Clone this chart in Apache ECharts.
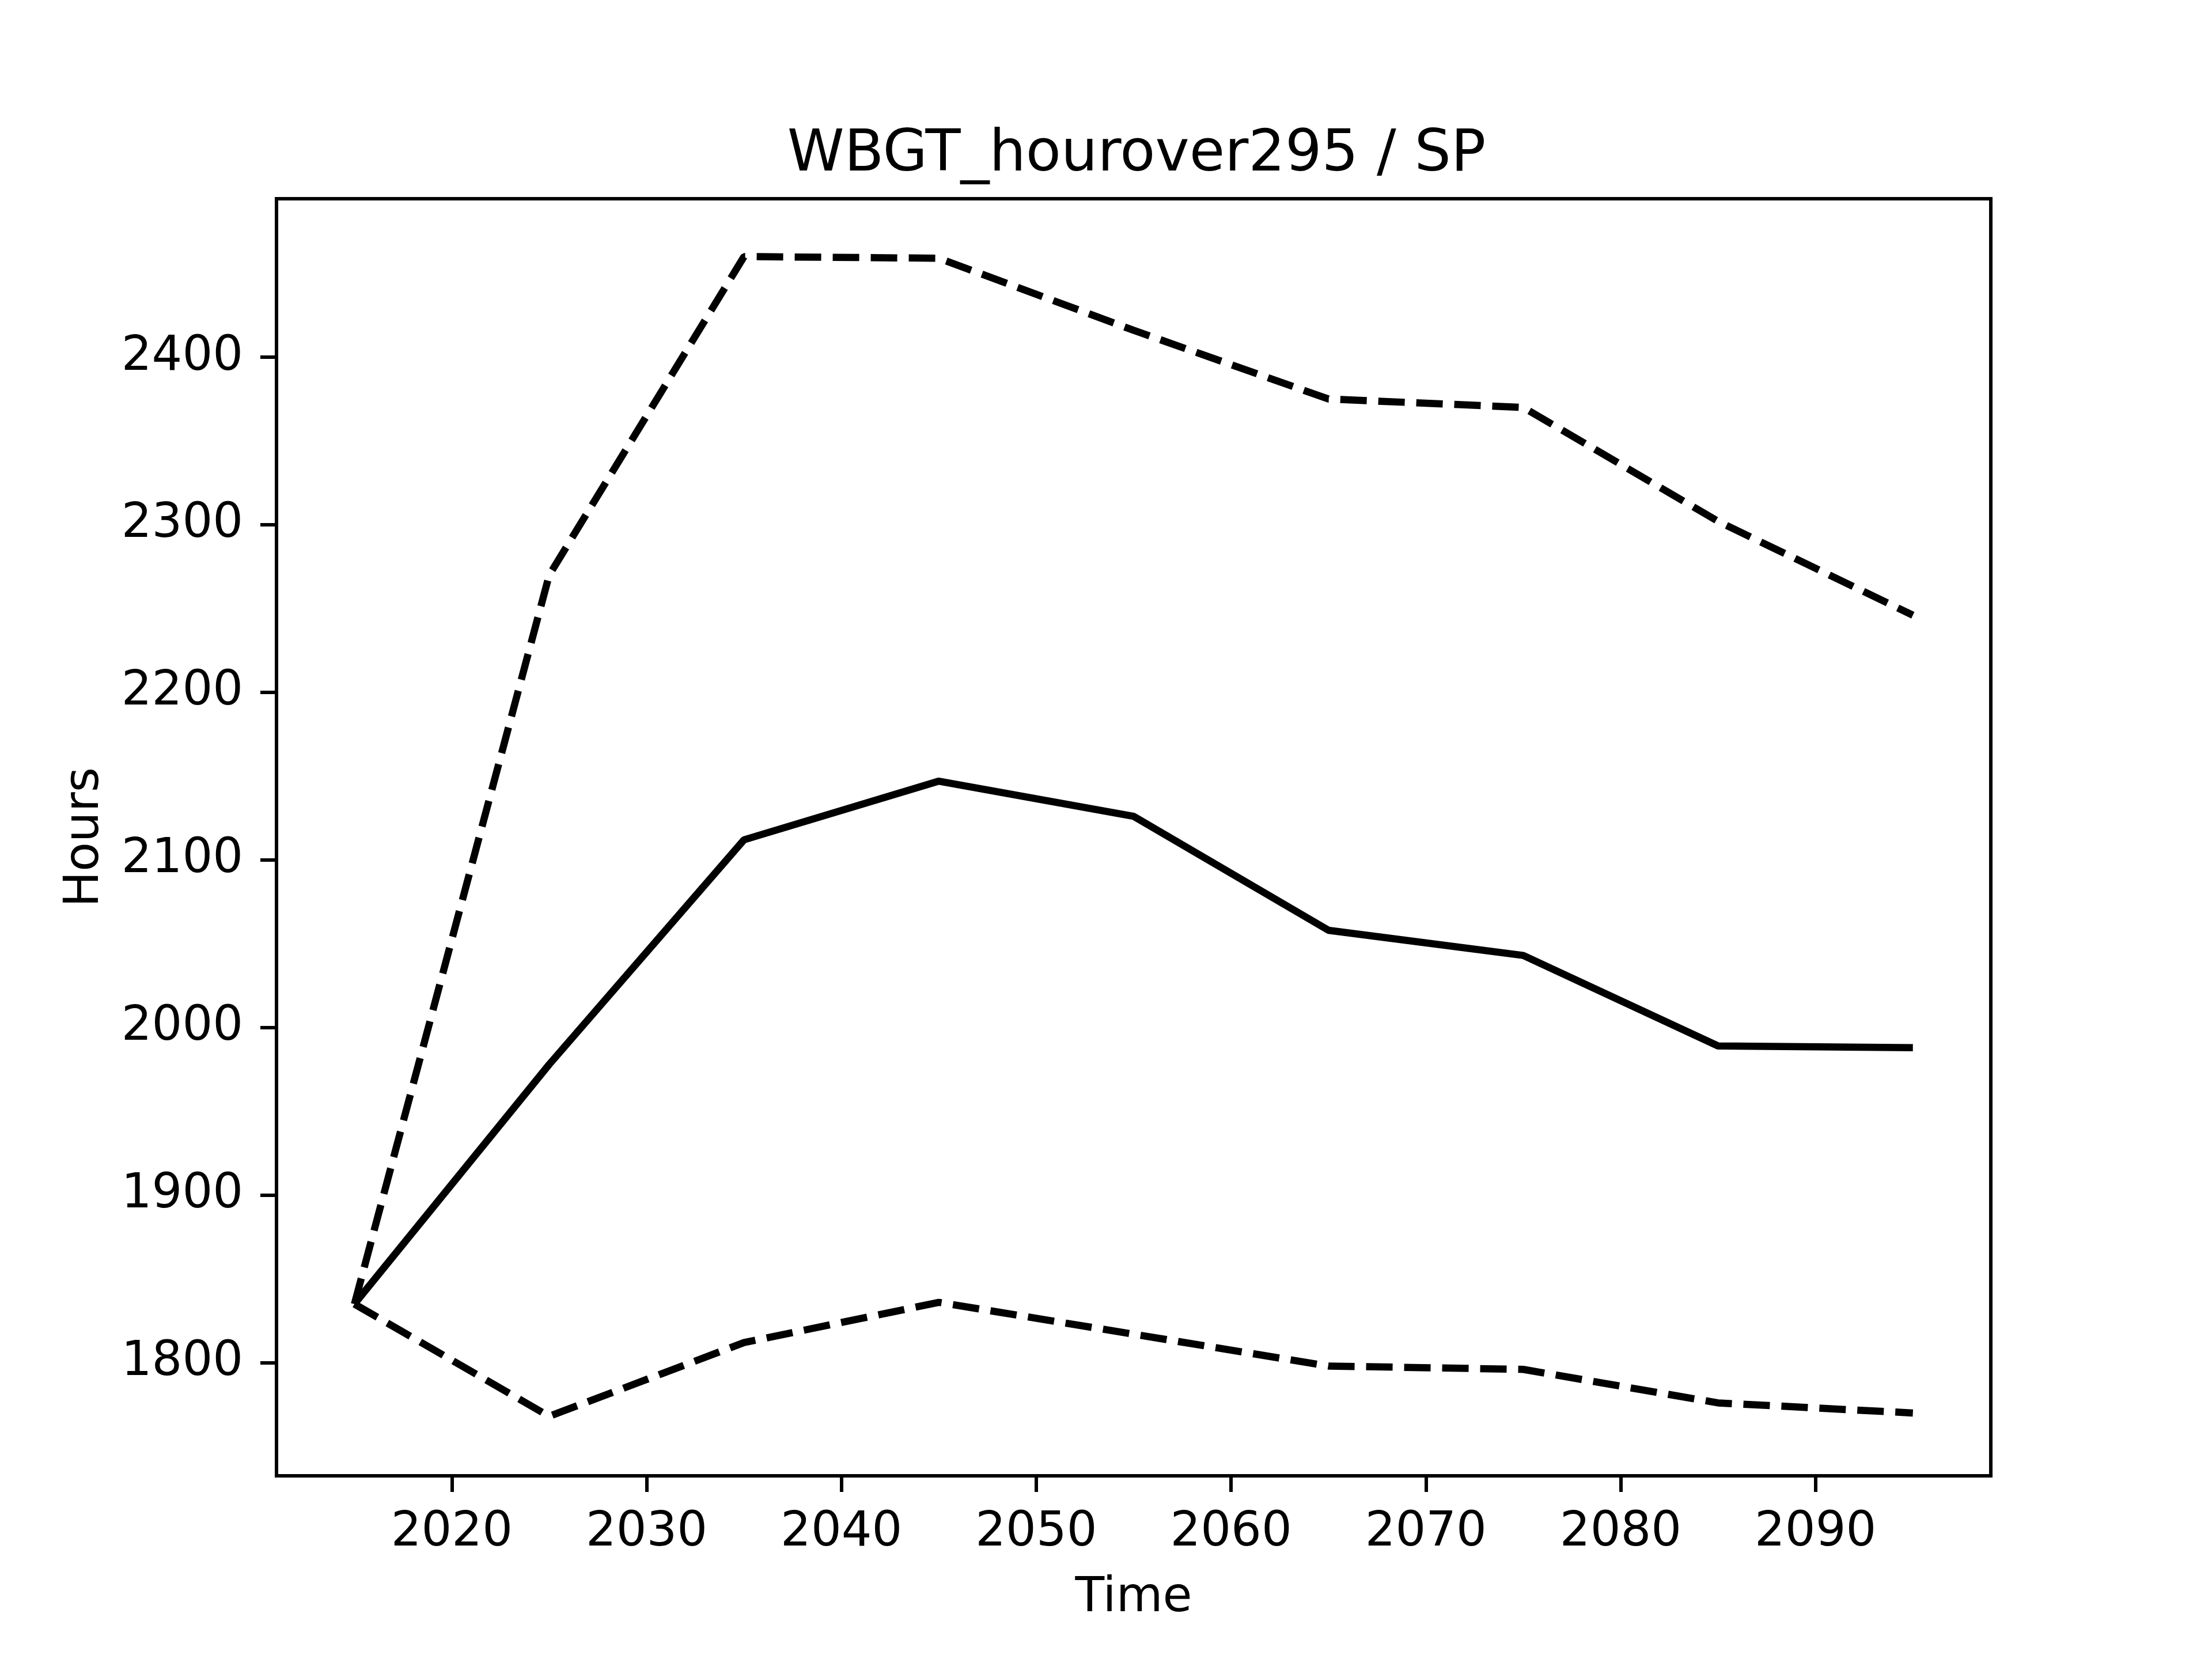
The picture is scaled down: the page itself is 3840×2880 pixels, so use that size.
<!DOCTYPE html>
<html>
<head>
<meta charset="utf-8">
<script src="https://cdn.jsdelivr.net/npm/echarts@6/dist/echarts.min.js"></script>
<style>
html,body{margin:0;padding:0;background:#fff;}
#chart{width:3840px;height:2880px;}
</style>
</head>
<body>
<div id="chart"></div>
<script>
const years = [2015, 2025, 2035, 2045, 2055, 2065, 2075, 2085, 2095];
const meanValues = [1835, 1978, 2112, 2147, 2126, 2058, 2043, 1989, 1988];
const upperValues = [1835, 2270, 2460, 2459, 2416, 2375, 2370, 2302, 2246];
const lowerValues = [1835, 1768, 1812, 1836, 1817, 1798, 1796, 1776, 1770];
const xTicks = [2020, 2030, 2040, 2050, 2060, 2070, 2080, 2090];
const yTicks = [1800, 1900, 2000, 2100, 2200, 2300, 2400];

const pairs = v => years.map((y, i) => [y, v[i]]);
const font = 'DejaVu Sans';
const chart = echarts.init(document.getElementById('chart'));
const lw = 12.5;
const dash = [46, 20];
const plain = v => String(Math.round(v));
chart.setOption({
  animation: false,
  backgroundColor: '#ffffff',
  title: {
    text: 'WBGT_hourover295 / SP',
    left: 1968, top: 215, textAlign: 'center',
    textStyle: {fontFamily: font, fontSize: 100, fontWeight: 'normal', color: '#000'}
  },
  grid: {
    left: 480, right: 384, top: 345, bottom: 318,
    show: true, borderColor: '#000', borderWidth: 6, backgroundColor: 'transparent'
  },
  xAxis: {
    type: 'value', min: 2011, max: 2099,
    name: 'Time', nameLocation: 'middle', nameGap: 172,
    nameTextStyle: {fontFamily: font, fontSize: 83, color: '#000'},
    axisLine: {show: true, lineStyle: {color: '#000', width: 6}},
    axisTick: {show: true, length: 28, lineStyle: {color: '#000', width: 6}, customValues: xTicks},
    axisLabel: {fontFamily: font, fontSize: 83, color: '#000', margin: 58, customValues: xTicks, formatter: plain},
    splitLine: {show: false}
  },
  yAxis: {
    type: 'value', min: 1732.5, max: 2494.5,
    name: 'Hours', nameLocation: 'middle', nameGap: 290,
    nameTextStyle: {fontFamily: font, fontSize: 83, color: '#000'},
    axisLine: {show: true, lineStyle: {color: '#000', width: 6}},
    axisTick: {show: true, length: 28, lineStyle: {color: '#000', width: 6}, customValues: yTicks},
    axisLabel: {fontFamily: font, fontSize: 83, color: '#000', margin: 58, customValues: yTicks, formatter: plain},
    splitLine: {show: false}
  },
  series: [
    {type: 'line', data: pairs(upperValues), showSymbol: false, lineStyle: {color: '#000', width: lw, type: dash}},
    {type: 'line', data: pairs(lowerValues), showSymbol: false, lineStyle: {color: '#000', width: lw, type: dash}},
    {type: 'line', data: pairs(meanValues), showSymbol: false, lineStyle: {color: '#000', width: lw, type: 'solid'}}
  ]
});
</script>
</body>
</html>
